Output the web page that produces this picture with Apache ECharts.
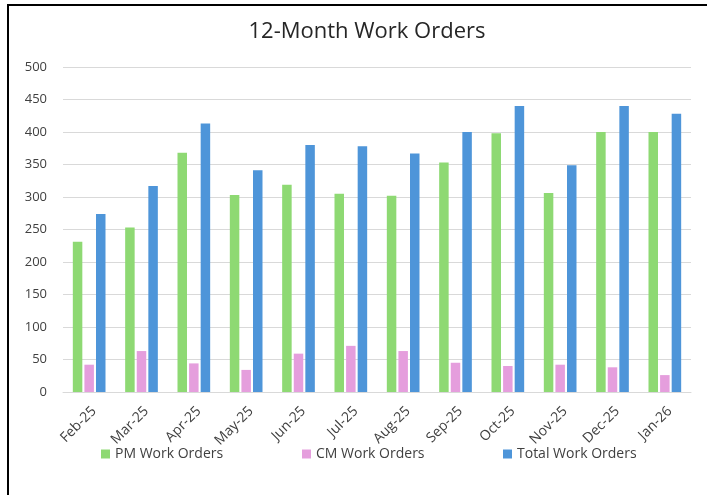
<!DOCTYPE html>
<html>
<head>
<meta charset="utf-8">
<script src="https://cdn.jsdelivr.net/npm/echarts@6/dist/echarts.min.js"></script>
<style>
  html, body { margin: 0; padding: 0; background: #fff; }
  #chart { width: 707px; height: 495px; }
  #frame { position: absolute; left: 7px; top: 4px; width: 700px; height: 491px;
           border-left: 2px solid #000; border-top: 2px solid #000; pointer-events: none; box-sizing: border-box; }
</style>
</head>
<body>
<div id="chart"></div>
<div id="frame"></div>
<script>
const months = ['Feb-25','Mar-25','Apr-25','May-25','Jun-25','Jul-25','Aug-25','Sep-25','Oct-25','Nov-25','Dec-25','Jan-26'];
const pmOrders = [231, 253, 368, 303, 319, 305, 302, 353, 398, 306, 400, 400];
const cmOrders = [42, 63, 44, 34, 59, 71, 63, 45, 40, 42, 38, 26];
const totalOrders = [274, 317, 413, 341, 380, 378, 367, 400, 440, 349, 440, 428];
const seriesNames = ['PM Work Orders', 'CM Work Orders', 'Total Work Orders'];

const FONT = '"Open Sans", "Liberation Sans", sans-serif';
const colors = ['#8ED973', '#E59EDD', '#4E95D9'];
const chart = echarts.init(document.getElementById('chart'), null, { renderer: 'canvas' });

function legendAt(name, left) {
  return {
    data: [name], left: left, top: 442, icon: 'rect', itemWidth: 9, itemHeight: 9,
    textStyle: { fontFamily: FONT, fontSize: 14, color: '#404040' }, selectedMode: false
  };
}

chart.setOption({
  animation: false,
  color: colors,
  textStyle: { fontFamily: FONT },
  title: {
    text: '12-Month Work Orders', left: 362, textAlign: 'center', top: 16,
    textStyle: { fontFamily: FONT, fontSize: 22, fontWeight: 'normal', color: '#262626' }
  },
  legend: [
    legendAt(seriesNames[0], 96),
    legendAt(seriesNames[1], 297),
    legendAt(seriesNames[2], 498)
  ],
  grid: { left: 63, right: 16, top: 67, bottom: 103, containLabel: false },
  xAxis: {
    type: 'category', data: months,
    axisLine: { lineStyle: { color: '#d9d9d9', width: 1 } },
    axisTick: { show: false },
    axisLabel: { rotate: 45, fontSize: 14, color: '#404040', margin: 12, verticalAlign: 'top', interval: 0 }
  },
  yAxis: {
    type: 'value', min: 0, max: 500, interval: 50,
    axisLine: { show: false }, axisTick: { show: false },
    axisLabel: { fontSize: 13, color: '#404040', margin: 16 },
    splitLine: { lineStyle: { color: '#d9d9d9', width: 1 } }
  },
  series: [
    { name: seriesNames[0], type: 'bar', data: pmOrders, barWidth: 9.5, barGap: '22%' },
    { name: seriesNames[1], type: 'bar', data: cmOrders, barWidth: 9.5, barGap: '22%' },
    { name: seriesNames[2], type: 'bar', data: totalOrders, barWidth: 9.5, barGap: '22%' }
  ]
});
</script>
</body>
</html>
